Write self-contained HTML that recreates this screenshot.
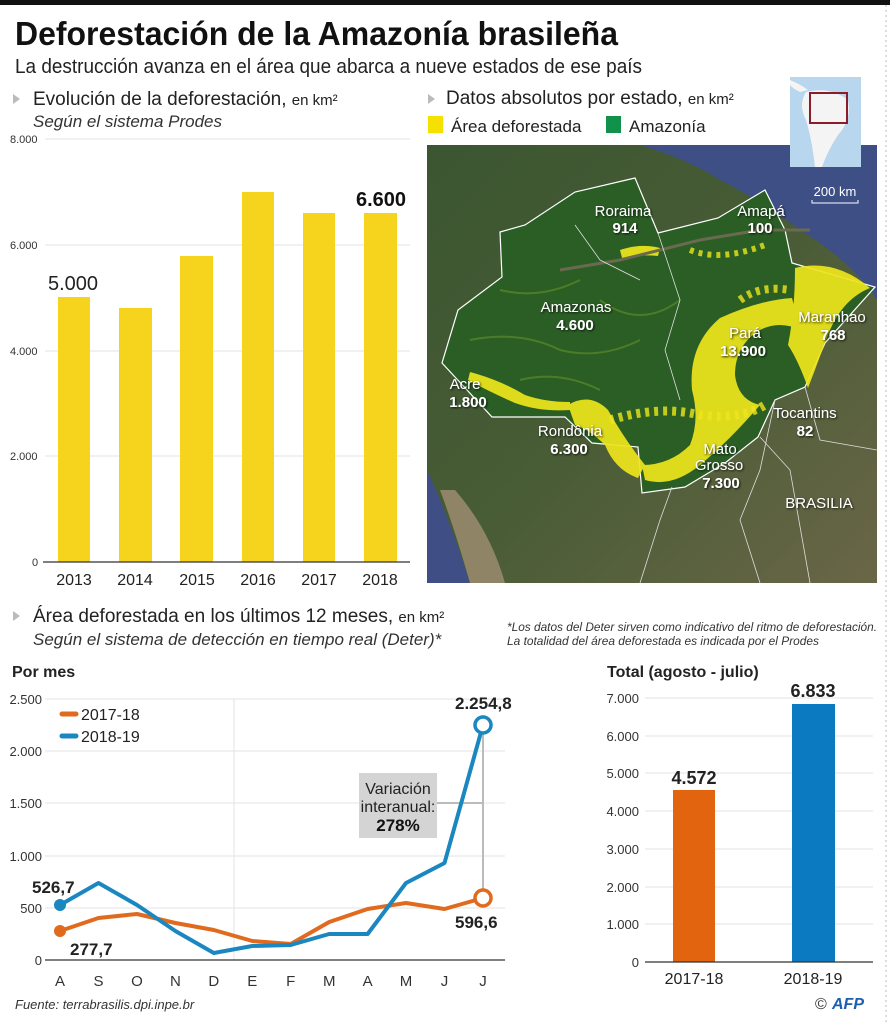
<!DOCTYPE html>
<html><head><meta charset="utf-8"><style>
html,body{margin:0;padding:0;background:#fff;}
svg{display:block;font-family:"Liberation Sans Narrow","Liberation Sans",sans-serif;}
</style></head><body>
<svg width="890" height="1024" viewBox="0 0 890 1024" xmlns="http://www.w3.org/2000/svg">
<defs>
<linearGradient id="bg" x1="0" y1="0" x2="1" y2="1">
<stop offset="0" stop-color="#3b5631"/><stop offset="0.5" stop-color="#485c35"/><stop offset="1" stop-color="#6a6647"/>
</linearGradient>
<filter id="sh"><feDropShadow dx="1" dy="1" stdDeviation="1" flood-color="#000" flood-opacity="0.8"/></filter>
</defs>
<rect x="0" y="0" width="890" height="5" fill="#111"/>
<line x1="886" y1="5" x2="886" y2="1024" stroke="#bbb" stroke-dasharray="2,3"/>
<text x="15" y="45" font-size="33" font-weight="bold" fill="#111" textLength="603" lengthAdjust="spacingAndGlyphs">Deforestación de la Amazonía brasileña</text>
<text x="15" y="73" font-size="20" fill="#222" textLength="627" lengthAdjust="spacingAndGlyphs">La destrucción avanza en el área que abarca a nueve estados de ese país</text>
<polygon points="13,94 13,104 20,99" fill="#bbb"/>
<text x="33" y="105" font-size="19" fill="#222">Evolución de la deforestación, <tspan font-size="15">en km²</tspan></text>
<text x="33" y="127" font-size="17" font-style="italic" fill="#333">Según el sistema Prodes</text>
<g font-size="11" fill="#333">
<line x1="45" y1="139" x2="410" y2="139" stroke="#e3e3e3"/>
<line x1="45" y1="245" x2="410" y2="245" stroke="#e3e3e3"/>
<line x1="45" y1="351" x2="410" y2="351" stroke="#e3e3e3"/>
<line x1="45" y1="456" x2="410" y2="456" stroke="#e3e3e3"/>
<text x="10" y="143">8.000</text><text x="10" y="249">6.000</text><text x="10" y="355">4.000</text><text x="10" y="460">2.000</text><text x="32" y="566">0</text>
</g>
<g fill="#f6d31d">
<rect x="58" y="297" width="32" height="265"/>
<rect x="119" y="308" width="33" height="254"/>
<rect x="180" y="256" width="33" height="306"/>
<rect x="242" y="192" width="32" height="370"/>
<rect x="303" y="213" width="32" height="349"/>
<rect x="364" y="213" width="33" height="349"/>
</g>
<line x1="43" y1="562" x2="410" y2="562" stroke="#333" stroke-width="1.2"/>
<g font-size="16" fill="#222" text-anchor="middle">
<text x="74" y="585">2013</text><text x="135" y="585">2014</text><text x="197" y="585">2015</text><text x="258" y="585">2016</text><text x="319" y="585">2017</text><text x="380" y="585">2018</text>
</g>
<text x="73" y="290" font-size="20" fill="#222" text-anchor="middle">5.000</text>
<text x="381" y="206" font-size="20" font-weight="bold" fill="#111" text-anchor="middle">6.600</text>
<polygon points="428,94 428,104 435,99" fill="#bbb"/>
<text x="446" y="104" font-size="19" fill="#222">Datos absolutos por estado, <tspan font-size="15">en km²</tspan></text>
<rect x="428" y="116" width="15" height="17" fill="#f5e000"/>
<text x="451" y="132" font-size="17" fill="#222">Área deforestada</text>
<rect x="606" y="116" width="15" height="17" fill="#11914a"/>
<text x="629" y="132" font-size="17" fill="#222">Amazonía</text>
<svg x="427" y="145" width="450" height="438" viewBox="427 145 450 438">
<rect x="427" y="145" width="450" height="438" fill="url(#bg)"/>
<path d="M640,145 L877,145 L877,300 Q850,260 800,230 Q760,200 720,180 Q690,160 640,145Z" fill="#3e4f86"/>
<path d="M427,470 Q450,520 470,583 L427,583Z" fill="#3f4f86"/>
<path d="M455,490 Q490,530 505,583 L470,583 Q455,530 440,490Z" fill="#8f8566"/>
<polygon points="500,232 525,225 575,192 635,178 658,233 718,218 765,190 785,230 792,263 875,287 825,343 805,387 775,400 758,437 725,463 685,487 642,493 638,447 592,443 565,417 492,417 442,363 458,310 502,277" fill="#2a5e24" stroke="#fff" stroke-width="1.2"/>
<g fill="none" stroke="#5d8a2a" stroke-width="2" opacity="0.7">
<path d="M470,340 Q520,330 560,350 Q600,360 640,340"/><path d="M500,290 Q540,300 580,280"/><path d="M600,300 Q640,330 680,300"/><path d="M520,380 Q560,370 600,390"/>
</g>
<g fill="#eee51c" opacity="0.92">
<path d="M795,268 Q835,258 870,288 Q840,300 826,340 Q815,370 808,388 Q798,360 788,345 Q795,310 795,268Z"/>
<path d="M692,390 Q688,345 720,318 Q760,300 792,298 L800,330 Q780,320 760,330 Q735,345 735,375 Q738,400 760,405 Q730,440 700,465 Q672,488 645,480 L642,465 Q670,465 690,445 Q700,420 692,390Z"/>
<path d="M568,405 Q590,392 608,410 Q625,440 645,465 L638,478 Q615,470 605,445 Q590,430 575,425Z"/>
<path d="M470,372 Q500,380 525,395 Q545,402 570,402 L570,410 Q540,412 515,403 Q490,392 468,380Z"/>
<path d="M620,250 Q640,243 660,248 L658,256 Q640,254 622,258Z"/>
</g>
<g fill="none" stroke="#eee51c" stroke-dasharray="4,5" opacity="0.8">
<path d="M610,420 Q660,405 700,415 Q740,420 765,405" stroke-width="9"/>
<path d="M690,250 Q720,262 765,245" stroke-width="6"/>
<path d="M740,300 Q760,285 790,290" stroke-width="8"/>
</g>
<polyline points="560,270 620,260 700,240 760,230 810,230" fill="none" stroke="#6a6a50" stroke-width="3"/>
<g stroke="#ddd" stroke-width="0.8" fill="none">
<polyline points="672,487 660,520 640,583"/><polyline points="760,437 790,470 810,583"/><polyline points="805,387 820,440 877,450"/><polyline points="775,400 760,470 740,520 760,583"/><polyline points="575,225 600,260 640,280"/><polyline points="658,233 680,300 665,350 680,400"/>
</g>
<g font-weight="bold" fill="#fff" text-anchor="middle" filter="url(#sh)" font-size="15">
<text x="623" y="216" font-weight="normal">Roraima</text><text x="625" y="233">914</text>
<text x="761" y="216" font-weight="normal">Amapá</text><text x="760" y="233">100</text>
<text x="576" y="312" font-weight="normal">Amazonas</text><text x="575" y="330">4.600</text>
<text x="745" y="338" font-weight="normal">Pará</text><text x="743" y="356">13.900</text>
<text x="832" y="322" font-weight="normal">Maranhao</text><text x="833" y="340">768</text>
<text x="465" y="389" font-weight="normal">Acre</text><text x="468" y="407">1.800</text>
<text x="570" y="436" font-weight="normal">Rondônia</text><text x="569" y="454">6.300</text>
<text x="805" y="418" font-weight="normal">Tocantins</text><text x="805" y="436">82</text>
<text x="720" y="454" font-weight="normal">Mato</text><text x="719" y="470" font-weight="normal">Grosso</text><text x="721" y="488">7.300</text>
<text x="819" y="508" font-weight="normal">BRASILIA</text>
</g>
<text x="835" y="196" font-size="13" fill="#fff" text-anchor="middle">200 km</text>
<polyline points="812,200 812,203 858,203 858,200" fill="none" stroke="#fff"/>
</svg>
<rect x="790" y="77" width="71" height="90" fill="#b8d6ee"/>
<path d="M806,92 Q830,86 848,100 Q852,120 838,135 Q828,150 822,167 L815,167 Q812,140 806,120 Q798,105 806,92Z" fill="#f4f4f4"/>
<path d="M790,80 Q800,84 808,90 L800,92 Q792,88 790,85Z" fill="#f4f4f4"/>
<rect x="810" y="93" width="37" height="30" fill="none" stroke="#8b1d2a" stroke-width="2"/>
<polygon points="13,611 13,621 20,616" fill="#bbb"/>
<text x="33" y="622" font-size="19" fill="#222">Área deforestada en los últimos 12 meses, <tspan font-size="15">en km²</tspan></text>
<text x="33" y="645" font-size="17" font-style="italic" fill="#333">Según el sistema de detección en tiempo real (Deter)*</text>
<text x="507" y="631" font-size="11.5" font-style="italic" fill="#333" textLength="370" lengthAdjust="spacingAndGlyphs">*Los datos del Deter sirven como indicativo del ritmo de deforestación.</text>
<text x="507" y="645" font-size="11.5" font-style="italic" fill="#333" textLength="312" lengthAdjust="spacingAndGlyphs">La totalidad del área deforestada es indicada por el Prodes</text>
<text x="12" y="677" font-size="16" font-weight="bold" fill="#222">Por mes</text>
<g stroke="#e3e3e3">
<line x1="45" y1="699" x2="505" y2="699"/><line x1="45" y1="751" x2="505" y2="751"/><line x1="45" y1="803" x2="505" y2="803"/><line x1="45" y1="856" x2="505" y2="856"/><line x1="45" y1="908" x2="505" y2="908"/>
<line x1="234" y1="699" x2="234" y2="960"/>
</g>
<g font-size="13" fill="#333" text-anchor="end">
<text x="42" y="704">2.500</text><text x="42" y="756">2.000</text><text x="42" y="808">1.500</text><text x="42" y="861">1.000</text><text x="42" y="913">500</text><text x="42" y="965">0</text>
</g>
<line x1="45" y1="960" x2="505" y2="960" stroke="#333" stroke-width="1.2"/>
<g font-size="15" fill="#333" text-anchor="middle">
<text x="60" y="986">A</text><text x="98.5" y="986">S</text><text x="137" y="986">O</text><text x="175.4" y="986">N</text><text x="213.8" y="986">D</text><text x="252.3" y="986">E</text><text x="290.7" y="986">F</text><text x="329.2" y="986">M</text><text x="367.6" y="986">A</text><text x="406" y="986">M</text><text x="444.5" y="986">J</text><text x="483" y="986">J</text>
</g>
<line x1="483" y1="725" x2="483" y2="898" stroke="#bbb" stroke-width="2"/>
<line x1="437" y1="803" x2="483" y2="803" stroke="#bbb" stroke-width="2"/>
<rect x="359" y="773" width="78" height="65" fill="#d4d4d4"/>
<text x="398" y="794" font-size="16" fill="#222" text-anchor="middle">Variación</text>
<text x="398" y="812" font-size="16" fill="#222" text-anchor="middle">interanual:</text>
<text x="398" y="831" font-size="17" font-weight="bold" fill="#111" text-anchor="middle">278%</text>
<polyline points="60,931 98.5,918 137,914 175.4,923 213.8,930 252.3,941 290.7,944 329.2,922 367.6,909 406,903 444.5,909 483,898" fill="none" stroke="#e06b1e" stroke-width="4" stroke-linejoin="round"/>
<polyline points="60,905 98.5,883 137,905 175.4,931 213.8,953 252.3,946 290.7,945 329.2,934 367.6,934 406,883 444.5,863 483,725" fill="none" stroke="#1b87c1" stroke-width="4" stroke-linejoin="round"/>
<circle cx="60" cy="931" r="6" fill="#e06b1e"/>
<circle cx="60" cy="905" r="6" fill="#1b87c1"/>
<circle cx="483" cy="898" r="8" fill="#fff" stroke="#e06b1e" stroke-width="3.5"/>
<circle cx="483" cy="725" r="8" fill="#fff" stroke="#1b87c1" stroke-width="3.5"/>
<g font-size="17" font-weight="bold" fill="#222">
<text x="32" y="893">526,7</text><text x="70" y="955">277,7</text>
<text x="455" y="928">596,6</text><text x="455" y="709">2.254,8</text>
</g>
<line x1="62" y1="714" x2="76" y2="714" stroke="#e06b1e" stroke-width="5" stroke-linecap="round"/>
<line x1="62" y1="736" x2="76" y2="736" stroke="#1b87c1" stroke-width="5" stroke-linecap="round"/>
<text x="81" y="720" font-size="16" fill="#222">2017-18</text>
<text x="81" y="742" font-size="16" fill="#222">2018-19</text>
<text x="607" y="677" font-size="16" font-weight="bold" fill="#222">Total (agosto - julio)</text>
<g stroke="#e3e3e3">
<line x1="645" y1="698" x2="873" y2="698"/><line x1="645" y1="736" x2="873" y2="736"/><line x1="645" y1="773" x2="873" y2="773"/><line x1="645" y1="811" x2="873" y2="811"/><line x1="645" y1="849" x2="873" y2="849"/><line x1="645" y1="887" x2="873" y2="887"/><line x1="645" y1="924" x2="873" y2="924"/>
</g>
<g font-size="13" fill="#333" text-anchor="end">
<text x="639" y="703">7.000</text><text x="639" y="741">6.000</text><text x="639" y="778">5.000</text><text x="639" y="816">4.000</text><text x="639" y="854">3.000</text><text x="639" y="892">2.000</text><text x="639" y="929">1.000</text><text x="639" y="967">0</text>
</g>
<rect x="673" y="790" width="42" height="172" fill="#e3640f"/>
<rect x="792" y="704" width="43" height="258" fill="#0b7ac0"/>
<line x1="645" y1="962" x2="873" y2="962" stroke="#333" stroke-width="1.2"/>
<text x="694" y="784" font-size="18" font-weight="bold" fill="#222" text-anchor="middle">4.572</text>
<text x="813" y="697" font-size="18" font-weight="bold" fill="#222" text-anchor="middle">6.833</text>
<text x="694" y="984" font-size="16" fill="#222" text-anchor="middle">2017-18</text>
<text x="813" y="984" font-size="16" fill="#222" text-anchor="middle">2018-19</text>
<text x="15" y="1009" font-size="13" font-style="italic" fill="#333">Fuente: terrabrasilis.dpi.inpe.br</text>
<text x="815" y="1009" font-size="16" fill="#333">©</text>
<text x="832" y="1009" font-size="16" font-weight="bold" font-style="italic" fill="#1b5fb0">AFP</text>
</svg>
</body></html>
